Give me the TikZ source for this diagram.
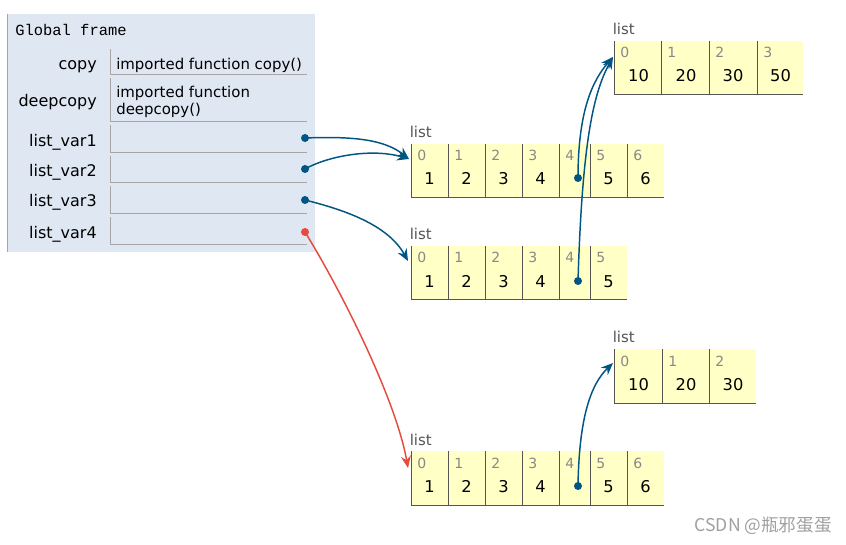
\documentclass[tikz,border=0pt]{standalone}
\usepackage{fontspec}
\setmainfont{DejaVu Sans}
\newfontfamily\monof{Liberation Mono}
\newfontfamily\cjkf{Noto Sans CJK SC}
\usetikzlibrary{arrows.meta}
\definecolor{framebg}{HTML}{DFE7F3}
\definecolor{frameline}{HTML}{A6A6A6}
\definecolor{listfill}{HTML}{FFFFC6}
\definecolor{cellline}{HTML}{555555}
\definecolor{idxgray}{HTML}{888888}
\definecolor{lblgray}{HTML}{555555}
\definecolor{ptrblue}{HTML}{005583}
\definecolor{ptrred}{HTML}{E64B3C}
\definecolor{wmgray}{HTML}{A0A0A0}
\newcommand\pylist[6]{%
  \fill[listfill] (#3,#2) rectangle (#4,#2+54);
  \draw[celledge] (#3,#2+54) -- (#4,#2+54);
  \node[lbl] (#1lbl) at (#3-1.5,#2-6) {list};
  \foreach \n/\a in {#5} {
    \draw[celledge] (\a,#2) -- (\a,#2+54);
    \node[idx] (#1i\n) at (\a+6,#2+17) {\n};
  }
  \foreach \n/\c/\v in {#6} {
    \node[val] (#1v\n) at (\c,#2+41) {\v};
  }
}
\begin{document}
\begin{tikzpicture}[x=0.75pt,y=-0.75pt,
  varname/.style={anchor=base east,inner sep=0pt,font=\fontsize{12}{14}\selectfont},
  valtext/.style={anchor=base west,inner sep=0pt,font=\fontsize{11.2}{13.5}\selectfont},
  idx/.style={anchor=base west,inner sep=0pt,text=idxgray,font=\fontsize{10.5}{12}\selectfont},
  val/.style={anchor=base,inner sep=0pt,font=\fontsize{12.2}{14}\selectfont},
  lbl/.style={anchor=base west,inner sep=0pt,text=lblgray,font=\fontsize{11.2}{13}\selectfont},
  celledge/.style={draw=cellline,line width=0.75pt},
  rowedge/.style={draw=frameline,line width=0.75pt},
  dotb/.style={circle,fill=ptrblue,inner sep=0pt,minimum size=6pt},
  dotr/.style={circle,fill=ptrred,inner sep=0pt,minimum size=6pt},
  refb/.style={draw=ptrblue,line width=1.1pt,-{Stealth[length=9pt,width=7.5pt,inset=3pt]}},
  refr/.style={draw=ptrred,line width=1.1pt,-{Stealth[length=9pt,width=7.5pt,inset=3pt]}}]
\useasboundingbox (0,0) rectangle (846,545);
\fill[white] (0,0) rectangle (846,545);
% frame
\fill[framebg] (7,14) rectangle (315,252);
\draw[rowedge] (7,14) -- (7,252);
\node[anchor=base west,inner sep=0pt,font=\monof\fontsize{11.6}{13}\selectfont] (gf) at (15,36) {Global frame};
\foreach \t/\b in {49/75,78/122,125/153,156/183,186/214,217/245} {
  \draw[rowedge] (110,\t) -- (110,\b) -- (307,\b);
}
\node[varname] (ncopy) at (97,69.3) {copy};
\node[varname] (ndeep) at (97,106.7) {deepcopy};
\node[varname] (nv1) at (97,147) {list\_var1};
\node[varname] (nv2) at (97,176.7) {list\_var2};
\node[varname] (nv3) at (97,207) {list\_var3};
\node[varname] (nv4) at (97,238.7) {list\_var4};
\node[valtext] (vcopy) at (116,69.3) {imported function copy()};
\node[valtext] (vdeep1) at (116,97.3) {imported function};
\node[valtext] (vdeep2) at (116,115) {deepcopy()};
\node[dotb] (d1) at (305,138) {};
\node[dotb] (d2) at (305,169) {};
\node[dotb] (d3) at (305,200) {};
\node[dotr] (d4) at (305,232) {};
% lists
\pylist{A}{41}{614}{803}{0/614,1/661,2/709,3/757}{0/638.5/10,1/686/20,2/733/30,3/780.5/50}
\pylist{L}{144}{411}{664}{0/411,1/448,2/485,3/522,4/559,5/590,6/627}{0/429.5/1,1/466.5/2,2/503.5/3,3/540.5/4,5/608.5/5,6/645.5/6}
\pylist{M}{246}{411}{627}{0/411,1/448,2/485,3/522,4/559,5/590}{0/429.5/1,1/466.5/2,2/503.5/3,3/540.5/4,5/608.5/5}
\pylist{B}{349}{614}{756}{0/614,1/662,2/709}{0/638.5/10,1/686/20,2/733/30}
\pylist{N}{451}{411}{664}{0/411,1/448,2/485,3/522,4/559,5/590,6/627}{0/429.5/1,1/466.5/2,2/503.5/3,3/540.5/4,5/608.5/5,6/645.5/6}
\node[dotb] (p1) at (578,178) {};
\node[dotb] (p2) at (578,281) {};
\node[dotb] (p3) at (578,486) {};
% arrow targets
\coordinate (tL) at (409,159);
\coordinate (tM) at (408,261);
\coordinate (tN) at (408,468);
\coordinate (tA) at (613,57);
\coordinate (tB) at (613,363);
% connectors
\draw[refb] (d1.center) .. controls (355,136) and (385,140) .. (tL);
\draw[refb] (d2.center) .. controls (328,156) and (372,148) .. (tL);
\draw[refb] (d3.center) .. controls (345,210) and (388,225) .. (tM);
\draw[refr] (d4.center) .. controls (342,292) and (396,400) .. (tN);
\draw[refb] (p1.center) .. controls (578,110) and (593,80) .. (tA);
\draw[refb] (p2.center) .. controls (582,150) and (592,95) .. (tA);
\draw[refb] (p3.center) .. controls (579,420) and (590,385) .. (tB);
% watermark
\node[anchor=base east,inner sep=0pt,text=wmgray,font=\cjkf\fontsize{13.2}{15}\selectfont] (wm) at (832,531) {CSDN @瓶邪蛋蛋};
\end{tikzpicture}
\end{document}
